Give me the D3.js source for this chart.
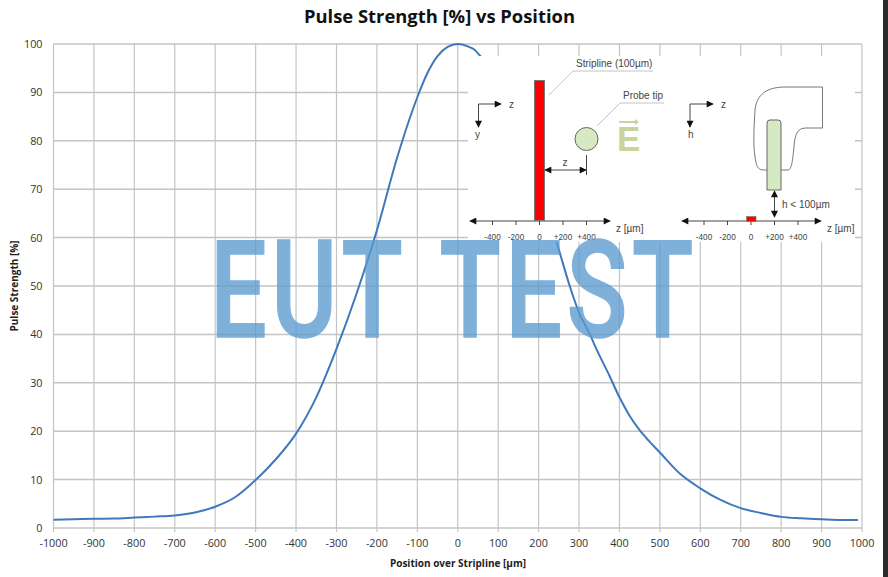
<!DOCTYPE html>
<html>
<head>
<meta charset="utf-8">
<script src="https://cdn.jsdelivr.net/npm/d3@7"></script>
<style>
  html, body { margin: 0; padding: 0; background: #fff; }
  svg { display: block; }
  text { font-family: "Open Sans", "Noto Sans", sans-serif; fill: #333; }
  .inset text { font-family: "Liberation Sans", sans-serif; fill: #444; }
</style>
</head>
<body>
<div id="chart"></div>
<script>
"use strict";
const positions = [-1000, -950, -900, -850, -800, -750, -700, -650, -600, -550, -500, -450, -400, -350, -300, -250, -200, -150, -100, -75, -50, -25, 0, 25, 40, 55, 100, 150, 200, 245, 277, 300, 327, 344, 375, 400, 425, 450, 475, 500, 550, 600, 650, 700, 750, 800, 850, 900, 950, 990];
const strength = [1.7, 1.8, 1.9, 1.95, 2.15, 2.35, 2.6, 3.2, 4.4, 6.4, 9.9, 14.2, 19.5, 27, 37, 48.5, 61.5, 76.5, 89, 94, 97.5, 99.4, 100, 99.5, 98.9, 97.6, 93, 82, 70, 58.9, 50, 44.5, 40, 36.8, 31.5, 27, 23.2, 20.2, 17.8, 15.6, 11.2, 8.2, 5.8, 4.1, 3.1, 2.3, 2, 1.8, 1.65, 1.65];
const xTicks = d3.range(-1000, 1001, 100);
const yTicks = d3.range(0, 101, 10);
const insetTicks = [-400, -200, 0, 200, 400];

const width = 888;
const height = 577;
const margin = { top: 44, right: 26, bottom: 49, left: 53.5 };

const svg = d3.select("#chart")
    .append("svg")
    .attr("width", width)
    .attr("height", height);

const x = d3.scaleLinear().domain([-1000, 1000]).range([margin.left, width - margin.right]);
const y = d3.scaleLinear().domain([0, 100]).range([height - margin.bottom, margin.top]);

// gridlines
const gridColor = "#c4c4c4";
svg.append("g")
    .selectAll("line")
    .data(xTicks)
    .enter()
    .append("line")
    .attr("x1", d => x(d))
    .attr("x2", d => x(d))
    .attr("y1", y(100))
    .attr("y2", y(0) + 4)
    .attr("stroke", gridColor)
    .attr("stroke-width", 1.2);
svg.append("g")
    .selectAll("line")
    .data(yTicks)
    .enter()
    .append("line")
    .attr("x1", x(-1000))
    .attr("x2", x(1000))
    .attr("y1", d => y(d))
    .attr("y2", d => y(d))
    .attr("stroke", gridColor)
    .attr("stroke-width", 1.5);

// tick labels
svg.append("g")
    .selectAll("text")
    .data(xTicks)
    .enter()
    .append("text")
    .attr("x", d => x(d))
    .attr("y", y(0) + 19)
    .attr("text-anchor", "middle")
    .attr("font-size", 10.8)
    .text(d => d);
svg.append("g")
    .selectAll("text")
    .data(yTicks)
    .enter()
    .append("text")
    .attr("x", margin.left - 11)
    .attr("y", d => y(d) + 4)
    .attr("text-anchor", "end")
    .attr("font-size", 10.8)
    .text(d => d);

// curve
const line = d3.line()
    .x((d, i) => x(positions[i]))
    .y(d => y(d))
    .curve(d3.curveMonotoneX);
svg.append("path")
    .datum(strength)
    .attr("d", line)
    .attr("fill", "none")
    .attr("stroke", "#3f78bd")
    .attr("stroke-width", 2);

// titles
svg.append("text")
    .attr("x", 439.5)
    .attr("y", 22.5)
    .attr("text-anchor", "middle")
    .attr("font-size", 17.5)
    .attr("font-weight", 700)
    .attr("textLength", 271)
    .attr("lengthAdjust", "spacingAndGlyphs")
    .style("fill", "#111")
    .text("Pulse Strength [%] vs Position");
svg.append("text")
    .attr("x", 458)
    .attr("y", 567)
    .attr("text-anchor", "middle")
    .attr("font-size", 10)
    .attr("font-weight", 700)
    .style("fill", "#222")
    .text("Position over Stripline [µm]");
svg.append("text")
    .attr("transform", "translate(18, 286) rotate(-90)")
    .attr("text-anchor", "middle")
    .attr("font-size", 10)
    .attr("font-weight", 700)
    .style("fill", "#222")
    .text("Pulse Strength [%]");

// inset picture pasted over the chart
const inset = svg.append("g").attr("class", "inset");
inset.append("rect")
    .attr("x", 468)
    .attr("y", 56)
    .attr("width", 387)
    .attr("height", 186)
    .attr("fill", "#fff");

const defs = svg.append("defs");
defs.append("marker")
    .attr("id", "arrow")
    .attr("viewBox", "0 0 10 10")
    .attr("refX", 9)
    .attr("refY", 5)
    .attr("markerWidth", 8)
    .attr("markerHeight", 7)
    .attr("markerUnits", "userSpaceOnUse")
    .attr("orient", "auto-start-reverse")
    .append("path")
    .attr("d", "M0,0L10,5L0,10Z")
    .attr("fill", "#111");

const arrowLine = (x1, y1, x2, y2, both) => {
    const l = inset.append("line")
        .attr("x1", x1).attr("y1", y1)
        .attr("x2", x2).attr("y2", y2)
        .attr("stroke", "#444")
        .attr("stroke-width", 1)
        .attr("marker-end", "url(#arrow)");
    if (both) l.attr("marker-start", "url(#arrow)");
    return l;
};
const insetLabel = (px, py, str, anchor) => inset.append("text")
    .attr("x", px)
    .attr("y", py)
    .attr("text-anchor", anchor || "start")
    .attr("font-size", 10)
    .text(str);
const leader = (points) => inset.append("path")
    .attr("d", d3.line()(points))
    .attr("fill", "none")
    .attr("stroke", "#c4c4c4")
    .attr("stroke-width", 1);

// z axis of each sketch, in µm
const drawZAxis = (zero, left, right) => {
    const z = d3.scaleLinear().domain([0, 400]).range([zero, zero + 47]);
    arrowLine(left, 221, right, 221, true);
    inset.append("g")
        .selectAll("line")
        .data(insetTicks)
        .enter()
        .append("line")
        .attr("x1", d => z(d))
        .attr("x2", d => z(d))
        .attr("y1", 221)
        .attr("y2", 225)
        .attr("stroke", "#444");
    inset.append("g")
        .selectAll("text")
        .data(insetTicks)
        .enter()
        .append("text")
        .attr("x", d => z(d))
        .attr("y", 240)
        .attr("text-anchor", "middle")
        .attr("font-size", 8.2)
        .text(d => d > 0 ? `+${d}` : d);
};

// left sketch
drawZAxis(539.5, 470, 610);
inset.append("rect")
    .attr("x", 534.5)
    .attr("y", 80.5)
    .attr("width", 10)
    .attr("height", 140)
    .attr("fill", "#ff0000")
    .attr("stroke", "#777");
arrowLine(478.5, 104, 501, 104);
arrowLine(478.5, 104, 478.5, 127);
insetLabel(509, 108, "z");
insetLabel(475, 138, "y");
insetLabel(616, 232, "z [µm]");
insetLabel(576, 67, "Stripline (100µm)");
insetLabel(623, 99, "Probe tip");
leader([[549, 95], [573, 71], [653, 71]]);
leader([[597, 126], [620, 103], [664, 103]]);
inset.append("circle")
    .attr("cx", 586.5)
    .attr("cy", 139)
    .attr("r", 11.5)
    .attr("fill", "#d5eac2")
    .attr("stroke", "#666");
arrowLine(545, 170, 586, 170, true);
inset.append("line")
    .attr("x1", 586.5).attr("x2", 586.5)
    .attr("y1", 155).attr("y2", 175)
    .attr("stroke", "#444");
insetLabel(565, 166, "z", "middle");
inset.append("text")
    .attr("x", 617)
    .attr("y", 151)
    .attr("font-size", 35)
    .attr("font-weight", 700)
    .style("fill", "#c9d39a")
    .text("E");
inset.append("path")
    .attr("d", "M619,122H638")
    .attr("stroke", "#c9d39a")
    .attr("stroke-width", 2);
inset.append("path")
    .attr("d", "M635,119L639,122L635,125Z")
    .attr("fill", "#c9d39a");

// right sketch
drawZAxis(751, 682, 821);
inset.append("rect")
    .attr("x", 746.5)
    .attr("y", 216.5)
    .attr("width", 9.5)
    .attr("height", 5)
    .attr("fill", "#ff0000")
    .attr("stroke", "#777")
    .attr("stroke-width", 0.6);
arrowLine(690, 104, 713, 104);
arrowLine(690, 104, 690, 127);
insetLabel(721, 108, "z");
insetLabel(688, 138, "h");
insetLabel(827, 232, "z [µm]");
insetLabel(782, 208, "h < 100µm");
arrowLine(774.5, 191, 774.5, 217, true);
inset.append("path")
    .attr("d", "M767,170C759,170 757,170 755,157C753,145 754,125 755,110C757,93 768,87 786,87H822.5V128H806C797,128 795,135 794,146C793,157 792,170 788,170H781")
    .attr("fill", "#fff")
    .attr("stroke", "#777")
    .attr("stroke-width", 1);
inset.append("path")
    .attr("d", "M767,190V123Q767,120 770,120H778Q781,120 781,123V190Z")
    .attr("fill", "#d5eac2")
    .attr("stroke", "#666");

// watermark over everything
svg.append("text")
    .attr("transform", "translate(210, 337) scale(0.74, 1)")
    .attr("font-size", 136)
    .attr("letter-spacing", 6)
    .attr("word-spacing", 10)
    .attr("opacity", 0.78)
    .style("font-family", "Roboto, sans-serif")
    .style("font-weight", 500)
    .style("fill", "#5b9bd0")
    .style("stroke", "#5b9bd0")
    .style("stroke-width", 1.5)
    .text("EUT TEST");

// edge of the screen grab
svg.append("rect")
    .attr("x", 883)
    .attr("y", 0)
    .attr("width", 5)
    .attr("height", height)
    .attr("fill", "#2b2b2b");
</script>
</body>
</html>
